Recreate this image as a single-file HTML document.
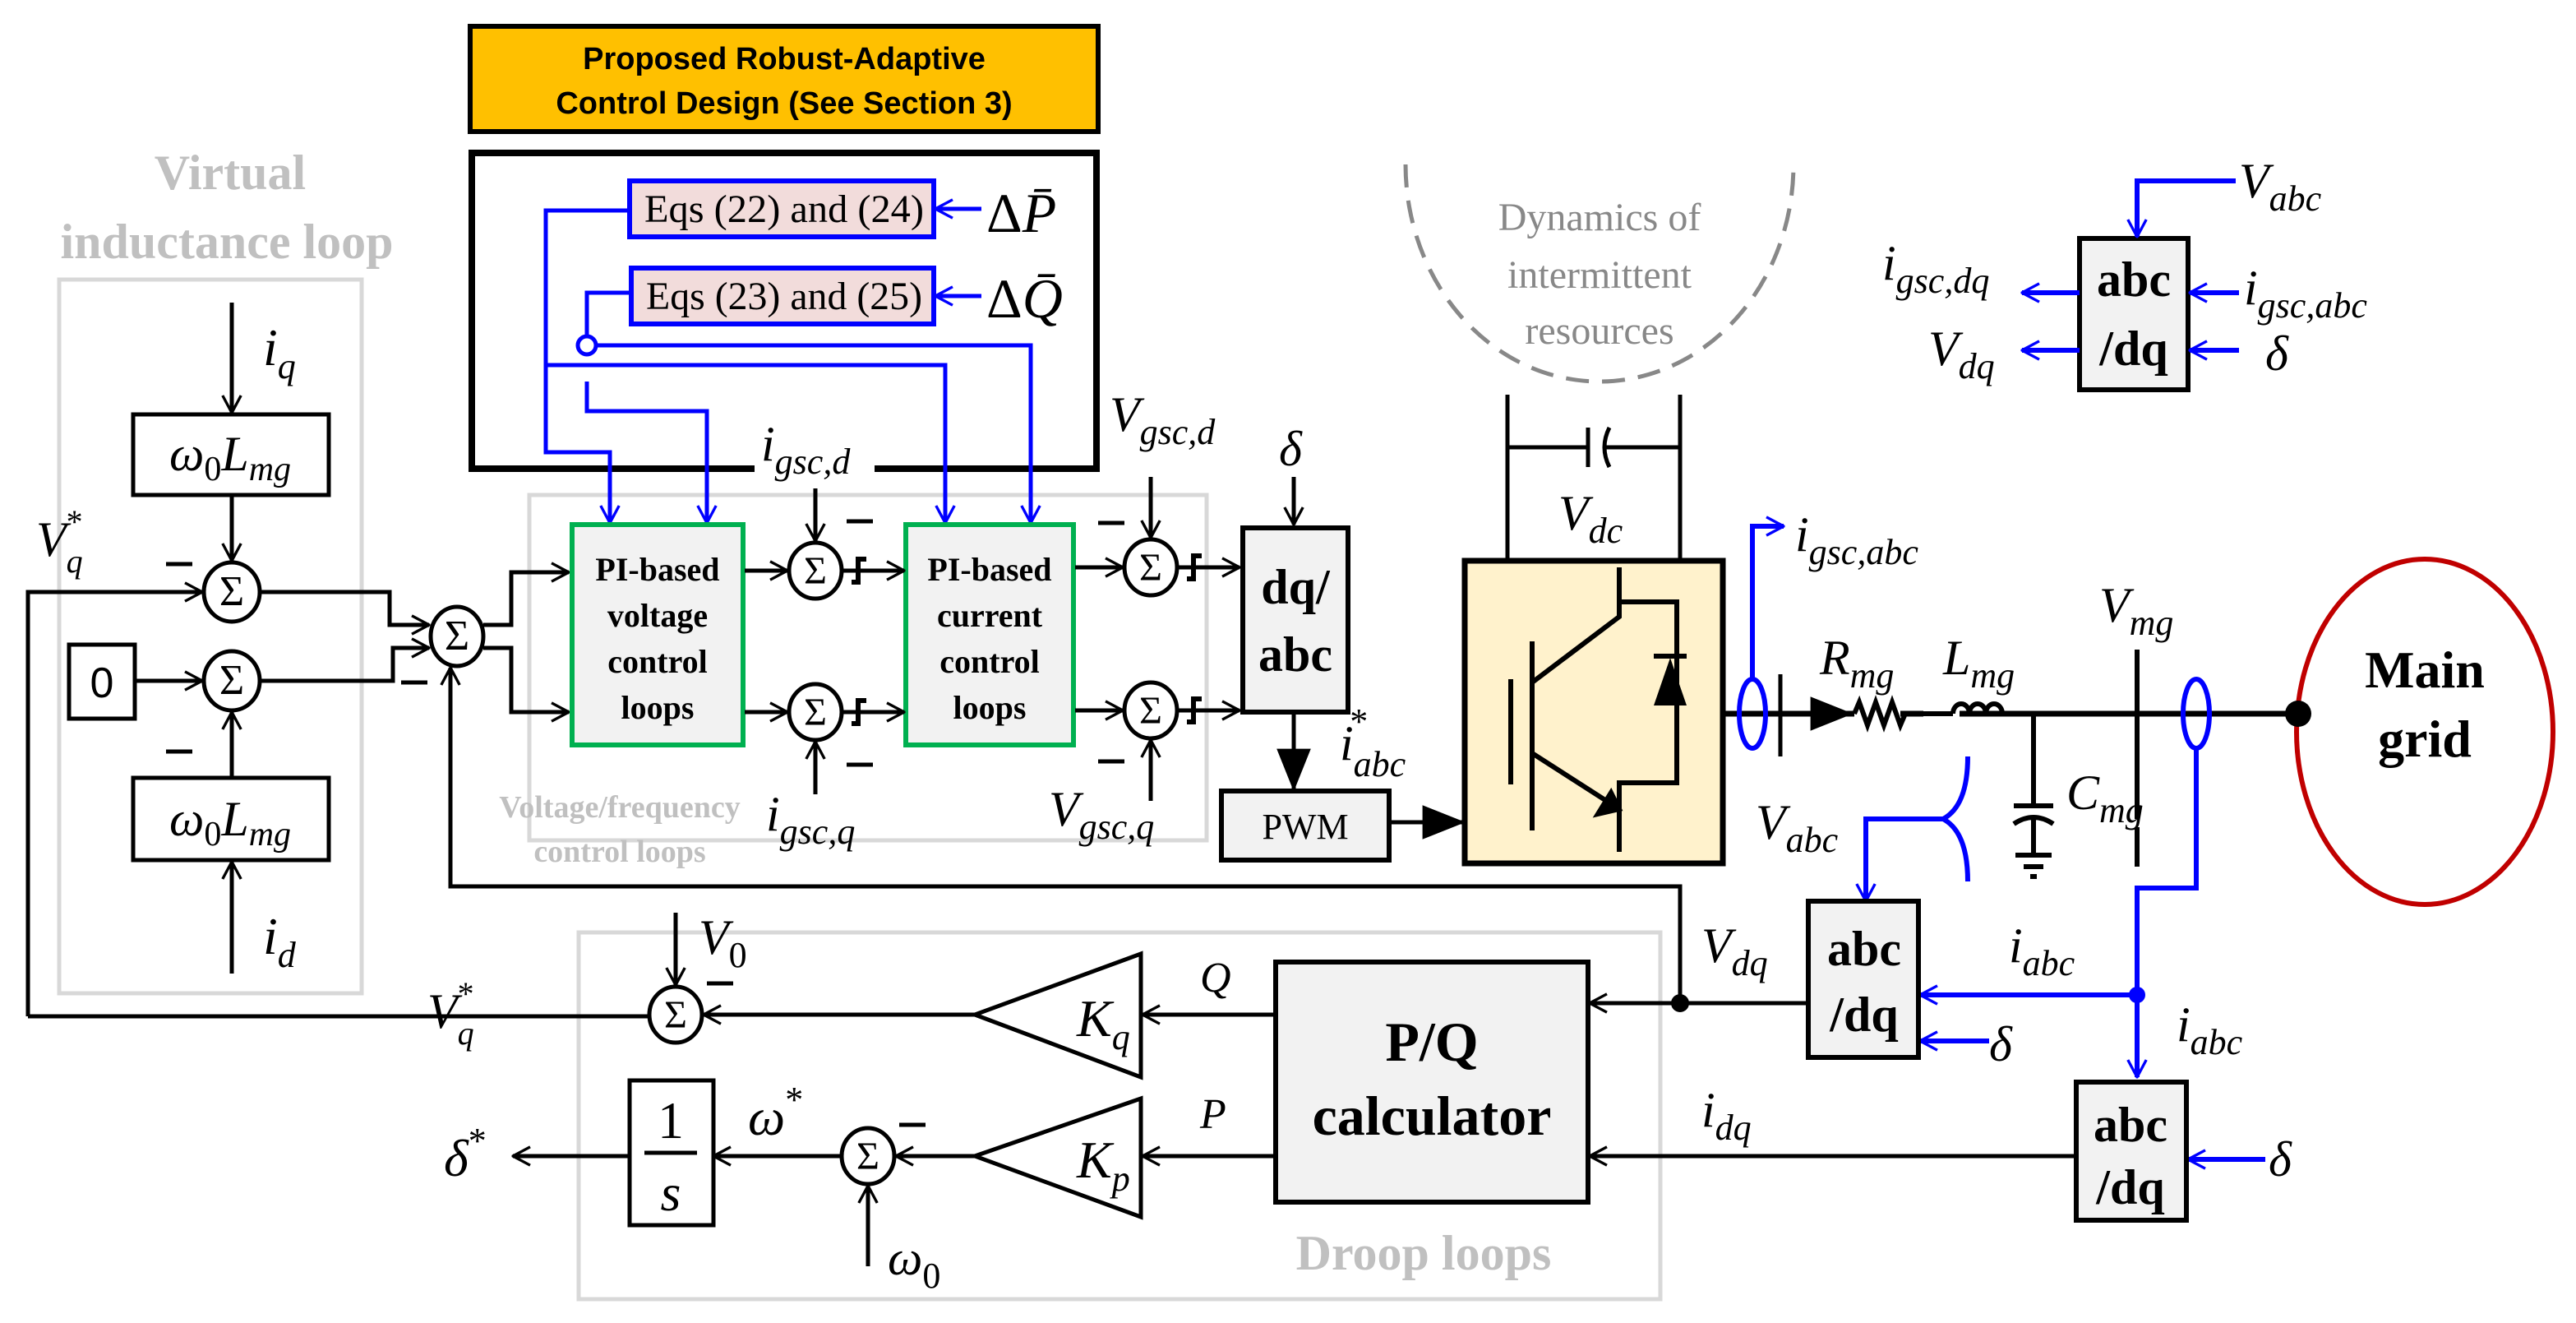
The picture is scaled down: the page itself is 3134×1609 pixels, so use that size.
<!DOCTYPE html>
<html><head><meta charset="utf-8"><style>
html,body{margin:0;padding:0;background:#fff}
svg{display:block}
.m{font-family:"Liberation Serif",serif;font-style:italic}
.s{font-family:"Liberation Serif",serif}
.b{font-family:"Liberation Serif",serif;font-weight:bold}
</style></head><body>
<svg width="3134" height="1609" viewBox="0 0 1567 804.5" xmlns="http://www.w3.org/2000/svg">
<defs>
<marker id="a" viewBox="0 0 20 20" refX="19" refY="10" markerWidth="14" markerHeight="14" markerUnits="userSpaceOnUse" orient="auto"><path d="M4,2 L19,10 L4,18" fill="none" stroke="#000" stroke-width="2.4"/></marker>
<marker id="ab" viewBox="0 0 20 20" refX="19" refY="10" markerWidth="14" markerHeight="14" markerUnits="userSpaceOnUse" orient="auto"><path d="M4,2 L19,10 L4,18" fill="none" stroke="#00f" stroke-width="2.4"/></marker>
<marker id="f" viewBox="0 0 20 20" refX="19" refY="10" markerWidth="26" markerHeight="26" markerUnits="userSpaceOnUse" orient="auto"><path d="M0,2 L20,10 L0,18 Z" fill="#000"/></marker>
</defs>
<g fill="none" stroke="#d8d8d8" stroke-width="2.5">
<rect x="36" y="170" width="184" height="434"/>
<rect x="322" y="301" width="412" height="210"/>
<rect x="352" y="567" width="658" height="223"/>
</g>
<text class="b" x="140" y="115" font-size="30" fill="#c0c0c0" text-anchor="middle">Virtual</text>
<text class="b" x="138" y="157" font-size="30" fill="#c0c0c0" text-anchor="middle">inductance loop</text>
<text class="b" x="377" y="497" font-size="19" fill="#c0c0c0" text-anchor="middle">Voltage/frequency</text>
<text class="b" x="377" y="524" font-size="19" fill="#c0c0c0" text-anchor="middle">control loops</text>
<text class="b" x="866" y="772" font-size="30" fill="#c0c0c0" text-anchor="middle">Droop loops</text>

<rect x="286" y="16" width="382" height="64" fill="#FFC000" stroke="#000" stroke-width="3"/>
<text x="477" y="42" font-family="Liberation Sans,sans-serif" font-weight="bold" font-size="19" text-anchor="middle">Proposed Robust-Adaptive</text>
<text x="477" y="69" font-family="Liberation Sans,sans-serif" font-weight="bold" font-size="19" text-anchor="middle">Control Design (See Section 3)</text>
<path d="M459,285 H287 V93 H667 V285 H532" fill="none" stroke="#000" stroke-width="4"/>

<rect x="383" y="110" width="185" height="34" fill="#F2DCDB" stroke="#00f" stroke-width="3"/>
<rect x="384" y="163" width="184" height="34" fill="#F2DCDB" stroke="#00f" stroke-width="3"/>
<text class="s" x="392" y="135" font-size="24" textLength="170" lengthAdjust="spacingAndGlyphs">Eqs (22) and  (24)</text>
<text class="s" x="393" y="188" font-size="24" textLength="168" lengthAdjust="spacingAndGlyphs">Eqs (23) and (25)</text>
<text class="s" x="600" y="141" font-size="34">Δ<tspan font-style="italic">P̄</tspan></text>
<text class="s" x="600" y="193" font-size="34">Δ<tspan font-style="italic">Q̄</tspan></text>
<g fill="none" stroke="#00f" stroke-width="2.5">
<path d="M597,127 H569" marker-end="url(#ab)"/>
<path d="M597,180 H569" marker-end="url(#ab)"/>
<path d="M383,128 H332 V275 H371 V318" marker-end="url(#ab)"/>
<path d="M332,222 H575 V318" marker-end="url(#ab)"/>
<path d="M384,178 H357 V204"/>
<circle cx="357" cy="210" r="5.5" fill="#fff"/>
<path d="M363,210 H627 V318" marker-end="url(#ab)"/>
<path d="M357,232 V250 H430 V318" marker-end="url(#ab)"/>
</g>

<!-- virtual inductance -->
<g fill="none" stroke="#000" stroke-width="2.5">
<rect x="81" y="252" width="119" height="49"/>
<rect x="81" y="473" width="119" height="50"/>
<rect x="42" y="392" width="40" height="45"/>
<ellipse cx="141" cy="360" rx="17" ry="18"/>
<ellipse cx="141" cy="414" rx="17" ry="18"/>
<ellipse cx="278" cy="387" rx="16" ry="18"/>
<path d="M141,184 V251" marker-end="url(#a)"/>
<path d="M141,301 V341" marker-end="url(#a)"/>
<path d="M141,592 V524" marker-end="url(#a)"/>
<path d="M141,473 V433" marker-end="url(#a)"/>
<path d="M82,414 H123" marker-end="url(#a)"/>
<path d="M17,618 V360 H123" marker-end="url(#a)"/>
<path d="M158,360 H237 V380 H261" marker-end="url(#a)"/>
<path d="M158,414 H239 V394 H261" marker-end="url(#a)"/>
<path d="M294,380 H311 V348 H346" marker-end="url(#a)"/>
<path d="M294,394 H311 V433 H346" marker-end="url(#a)"/>
<path d="M1022,610 V539 H274 V406" marker-end="url(#a)"/>
</g>
<g stroke="#000" stroke-width="2.5">
<line x1="101" y1="343" x2="117" y2="343"/>
<line x1="101" y1="457" x2="117" y2="457"/>
<line x1="244" y1="415" x2="260" y2="415"/>
</g>
<g class="s" font-size="26" text-anchor="middle">
<text x="141" y="368">Σ</text><text x="141" y="422">Σ</text><text x="278" y="395">Σ</text>
</g>
<text x="62" y="424" font-family="Liberation Sans,sans-serif" font-size="26" text-anchor="middle">0</text>
<text class="m" x="140" y="286" font-size="30" text-anchor="middle">ω<tspan font-style="normal" font-size="21" dy="6">0</tspan><tspan dy="-6">L</tspan><tspan font-size="21" dy="6">mg</tspan></text>
<text class="m" x="140" y="508" font-size="30" text-anchor="middle">ω<tspan font-style="normal" font-size="21" dy="6">0</tspan><tspan dy="-6">L</tspan><tspan font-size="21" dy="6">mg</tspan></text>
<text class="m" x="160" y="222" font-size="32">i<tspan font-size="22" dy="8">q</tspan></text>
<text class="m" x="160" y="580" font-size="32">i<tspan font-size="22" dy="8">d</tspan></text>
<text class="m" x="22" y="338" font-size="30">V<tspan font-size="20" dy="10">q</tspan><tspan font-size="20" dx="-10" dy="-24" font-style="normal">*</tspan></text>

<!-- PI boxes -->
<rect x="348" y="319" width="104" height="134" fill="#f2f2f2" stroke="#00B050" stroke-width="3"/>
<rect x="551" y="319" width="102" height="134" fill="#f2f2f2" stroke="#00B050" stroke-width="3"/>
<g class="b" font-size="20" text-anchor="middle">
<text x="400" y="353">PI-based</text><text x="400" y="381">voltage</text><text x="400" y="409">control</text><text x="400" y="437">loops</text>
<text x="602" y="353">PI-based</text><text x="602" y="381">current</text><text x="602" y="409">control</text><text x="602" y="437">loops</text>
</g>
<g fill="none" stroke="#000" stroke-width="2.5">
<ellipse cx="496" cy="347" rx="16" ry="17"/>
<ellipse cx="496" cy="433" rx="16" ry="17"/>
<ellipse cx="700" cy="345" rx="16" ry="17"/>
<ellipse cx="700" cy="432" rx="16" ry="17"/>
<path d="M453,347 H479" marker-end="url(#a)"/>
<path d="M453,433 H479" marker-end="url(#a)"/>
<path d="M512,347 H550" marker-end="url(#a)"/>
<path d="M512,433 H550" marker-end="url(#a)"/>
<path d="M654,345 H683" marker-end="url(#a)"/>
<path d="M654,432 H683" marker-end="url(#a)"/>
<path d="M716,345 H754" marker-end="url(#a)"/>
<path d="M716,432 H754" marker-end="url(#a)"/>
<path d="M496,297 V329" marker-end="url(#a)"/>
<path d="M496,483 V451" marker-end="url(#a)"/>
<path d="M700,290 V327" marker-end="url(#a)"/>
<path d="M700,487 V450" marker-end="url(#a)"/>
<path d="M787,290 V319" marker-end="url(#a)"/>
<path d="M518,354 h4 v-14 h5 M518,440 h4 v-14 h5 M722,352 h4 v-14 h5 M722,439 h4 v-14 h5" stroke-width="3"/>
<line x1="515" y1="317" x2="531" y2="317"/><line x1="515" y1="465" x2="531" y2="465"/>
<line x1="668" y1="318" x2="684" y2="318"/><line x1="668" y1="463" x2="684" y2="463"/>
</g>
<g class="s" font-size="24" text-anchor="middle">
<text x="496" y="355">Σ</text><text x="496" y="441">Σ</text><text x="700" y="353">Σ</text><text x="700" y="440">Σ</text>
</g>
<text class="m" x="463" y="280" font-size="30">i<tspan font-size="22" dy="8">gsc,d</tspan></text>
<text class="m" x="466" y="505" font-size="30">i<tspan font-size="22" dy="8">gsc,q</tspan></text>
<text class="m" x="675" y="262" font-size="30">V<tspan font-size="22" dy="8">gsc,d</tspan></text>
<text class="m" x="638" y="502" font-size="30">V<tspan font-size="22" dy="8">gsc,q</tspan></text>
<text class="m" x="778" y="283" font-size="30">δ</text>

<rect x="756" y="321" width="64" height="112" fill="#f2f2f2" stroke="#000" stroke-width="3"/>
<text class="b" x="788" y="367" font-size="30" text-anchor="middle">dq/</text>
<text class="b" x="788" y="408" font-size="30" text-anchor="middle">abc</text>
<path d="M787,433 V480" stroke="#000" stroke-width="2.5" marker-end="url(#f)"/>
<text class="m" x="815" y="462" font-size="30">i<tspan font-size="22" dy="10">abc</tspan><tspan font-size="22" dx="-34" dy="-26" font-style="normal">*</tspan></text>
<rect x="743" y="481" width="102" height="42" fill="#f2f2f2" stroke="#000" stroke-width="3"/>
<text class="s" x="794" y="510" font-size="22" text-anchor="middle">PWM</text>
<path d="M845,500 H890" stroke="#000" stroke-width="2.5" marker-end="url(#f)"/>

<!-- inverter -->
<path d="M855,100 A118,132 0 0 0 1091,100" fill="none" stroke="#888" stroke-width="2.5" stroke-dasharray="14,8"/>
<g class="s" font-size="24" fill="#888" text-anchor="middle">
<text x="973" y="140">Dynamics of</text><text x="973" y="175">intermittent</text><text x="973" y="209">resources</text>
</g>
<g fill="none" stroke="#000" stroke-width="2.5">
<path d="M917,340 V240 M1022,340 V240 M917,272 H966 M976,272 H1022"/>
<path d="M966,260 V284 M979,260 q-6,12 0,24"/>
</g>
<text class="m" x="948" y="322" font-size="30">V<tspan font-size="22" dy="8">dc</tspan></text>
<rect x="891" y="341" width="157" height="184" fill="#FFF2CC" stroke="#000" stroke-width="3.5"/>
<g fill="none" stroke="#000" stroke-width="3">
<path d="M919,413 V477 M932,390 V505 M932,415 L985,375 V345 M985,366 H1020 V476 H985 V518 M932,458 L985,492"/>
<path d="M1006,399 H1026"/>
</g>
<path d="M1006,429 L1016,400 L1026,429 Z" fill="#000"/>
<path d="M985,492 L972,495 L980,482 Z" fill="#000" stroke="#000" stroke-width="3"/>

<!-- power line -->
<g fill="none" stroke="#000" stroke-width="3.5">
<path d="M1048,434 H1128 M1156,434 H1170 M1192,434 H1398"/>
</g>
<path d="M1080,434 H1126" stroke="#000" stroke-width="3" marker-end="url(#f)"/>
<line x1="1083" y1="410" x2="1083" y2="460" stroke="#000" stroke-width="2.5"/>
<path d="M1128,434 l3,-7 l5,14 l5,-14 l5,14 l5,-14 l5,14 l3,-7 H1188" fill="none" stroke="#000" stroke-width="3"/>
<path d="M1188,434 a5,6 0 0 1 10,0 a5,6 0 0 1 10,0 a5,6 0 0 1 10,0" fill="none" stroke="#000" stroke-width="3"/>
<g stroke="#000" stroke-width="3" fill="none">
<path d="M1237,434 V489 M1225,490 H1249 M1225,501 q12,-8 24,0 M1237,498 V520 M1226,520 H1248 M1231,527 H1243 M1235,533 H1239"/>
<line x1="1300" y1="395" x2="1300" y2="498"/><line x1="1300" y1="503" x2="1300" y2="527"/>
</g>
<text class="m" x="1107" y="410" font-size="30">R<tspan font-size="22" dy="8">mg</tspan></text>
<text class="m" x="1182" y="410" font-size="30">L<tspan font-size="22" dy="8">mg</tspan></text>
<text class="m" x="1277" y="378" font-size="30">V<tspan font-size="22" dy="8">mg</tspan></text>
<text class="m" x="1257" y="492" font-size="30">C<tspan font-size="22" dy="8">mg</tspan></text>
<ellipse cx="1475" cy="445" rx="78" ry="105" fill="none" stroke="#C00000" stroke-width="3"/>
<circle cx="1398" cy="434" r="8" fill="#000"/>
<text class="b" x="1475" y="418" font-size="32" text-anchor="middle">Main</text>
<text class="b" x="1475" y="460" font-size="32" text-anchor="middle">grid</text>

<g fill="none" stroke="#00f" stroke-width="3">
<ellipse cx="1066" cy="434" rx="8" ry="21"/>
<ellipse cx="1336" cy="434" rx="8" ry="21"/>
<path d="M1066,413 V320 H1085" marker-end="url(#ab)"/>
<path d="M1197,460 q0,30 -15,38 q15,8 15,38 M1182,498 H1135 V548" marker-end="url(#ab)"/>
<path d="M1336,455 V540 H1300 V655" marker-end="url(#ab)"/>
<path d="M1300,605 H1168" marker-end="url(#ab)"/>
<path d="M1210,633 H1168" marker-end="url(#ab)"/>
<path d="M1378,705 H1331" marker-end="url(#ab)"/>
</g>
<circle cx="1300" cy="605" r="5" fill="#00f"/>
<text class="m" x="1092" y="335" font-size="30">i<tspan font-size="22" dy="8">gsc,abc</tspan></text>
<text class="m" x="1068" y="510" font-size="30">V<tspan font-size="22" dy="8">abc</tspan></text>
<text class="m" x="1222" y="585" font-size="30">i<tspan font-size="22" dy="8">abc</tspan></text>
<text class="m" x="1324" y="633" font-size="30">i<tspan font-size="22" dy="8">abc</tspan></text>
<text class="m" x="1210" y="645" font-size="30">δ</text>
<text class="m" x="1380" y="715" font-size="30">δ</text>

<rect x="1100" y="548" width="67" height="95" fill="#f2f2f2" stroke="#000" stroke-width="3"/>
<text class="b" x="1134" y="587" font-size="30" text-anchor="middle">abc</text>
<text class="b" x="1134" y="627" font-size="30" text-anchor="middle">/dq</text>
<rect x="1263" y="658" width="67" height="84" fill="#f2f2f2" stroke="#000" stroke-width="3"/>
<text class="b" x="1296" y="694" font-size="30" text-anchor="middle">abc</text>
<text class="b" x="1296" y="732" font-size="30" text-anchor="middle">/dq</text>
<g fill="none" stroke="#000" stroke-width="2.5">
<path d="M1100,610 H967" marker-end="url(#a)"/>
<path d="M1263,703 H967" marker-end="url(#a)"/>
</g>
<circle cx="1022" cy="610" r="5.5" fill="#000"/>
<text class="m" x="1035" y="585" font-size="30">V<tspan font-size="22" dy="8">dq</tspan></text>
<text class="m" x="1035" y="685" font-size="30">i<tspan font-size="22" dy="8">dq</tspan></text>

<!-- droop -->
<rect x="776" y="585" width="190" height="146" fill="#f2f2f2" stroke="#000" stroke-width="3"/>
<text class="b" x="871" y="645" font-size="34" text-anchor="middle">P/Q</text>
<text class="b" x="871" y="690" font-size="34" text-anchor="middle">calculator</text>
<g fill="none" stroke="#000" stroke-width="2.5">
<path d="M694,580 L593,617 L694,655 Z"/>
<path d="M694,668 L593,703 L694,740 Z"/>
<path d="M776,617 H695" marker-end="url(#a)"/>
<path d="M776,703 H695" marker-end="url(#a)"/>
<path d="M593,617 H428" marker-end="url(#a)"/>
<path d="M593,703 H545" marker-end="url(#a)"/>
<ellipse cx="411" cy="617" rx="16" ry="17"/>
<ellipse cx="528" cy="703" rx="16" ry="17"/>
<path d="M411,555 V599" marker-end="url(#a)"/>
<path d="M528,770 V721" marker-end="url(#a)"/>
<path d="M395,618 H17"/>
<path d="M512,703 H434" marker-end="url(#a)"/>
<rect x="383" y="657" width="51" height="88"/>
<path d="M383,703 H312" marker-end="url(#a)"/>
<line x1="430" y1="598" x2="446" y2="598"/><line x1="547" y1="684" x2="563" y2="684"/>
<line x1="392" y1="701" x2="424" y2="701"/>
</g>
<g class="s" font-size="24" text-anchor="middle"><text x="411" y="625">Σ</text><text x="528" y="711">Σ</text></g>
<text class="s" x="408" y="692" font-size="32" text-anchor="middle">1</text>
<text class="m" x="408" y="736" font-size="32" text-anchor="middle">s</text>
<text class="m" x="655" y="630" font-size="32">K<tspan font-size="22" dy="8">q</tspan></text>
<text class="m" x="655" y="716" font-size="32">K<tspan font-size="22" dy="8">p</tspan></text>
<text class="m" x="730" y="603" font-size="26">Q</text>
<text class="m" x="730" y="686" font-size="26">P</text>
<text class="m" x="425" y="580" font-size="30">V<tspan font-size="22" dy="8" font-style="normal">0</tspan></text>
<text class="m" x="540" y="775" font-size="30">ω<tspan font-size="22" dy="8" font-style="normal">0</tspan></text>
<text class="m" x="455" y="690" font-size="32">ω<tspan font-size="22" dy="-14" font-style="normal">*</tspan></text>
<text class="m" x="260" y="625" font-size="30">V<tspan font-size="20" dy="10">q</tspan><tspan font-size="20" dx="-10" dy="-24" font-style="normal">*</tspan></text>
<text class="m" x="270" y="715" font-size="32">δ<tspan font-size="22" dy="-14" font-style="normal">*</tspan></text>

<!-- top right -->
<rect x="1265" y="145" width="66" height="92" fill="#f2f2f2" stroke="#000" stroke-width="3"/>
<text class="b" x="1298" y="180" font-size="30" text-anchor="middle">abc</text>
<text class="b" x="1298" y="222" font-size="30" text-anchor="middle">/dq</text>
<g fill="none" stroke="#00f" stroke-width="3">
<path d="M1360,110 H1300 V144" marker-end="url(#ab)"/>
<path d="M1362,178 H1332" marker-end="url(#ab)"/>
<path d="M1362,213 H1332" marker-end="url(#ab)"/>
<path d="M1265,178 H1230" marker-end="url(#ab)"/>
<path d="M1265,213 H1230" marker-end="url(#ab)"/>
</g>
<text class="m" x="1362" y="120" font-size="30">V<tspan font-size="22" dy="8">abc</tspan></text>
<text class="m" x="1365" y="185" font-size="30">i<tspan font-size="22" dy="8">gsc,abc</tspan></text>
<text class="m" x="1378" y="225" font-size="30">δ</text>
<text class="m" x="1145" y="170" font-size="30">i<tspan font-size="22" dy="8">gsc,dq</tspan></text>
<text class="m" x="1173" y="222" font-size="30">V<tspan font-size="22" dy="8">dq</tspan></text>
</svg>
</body></html>
